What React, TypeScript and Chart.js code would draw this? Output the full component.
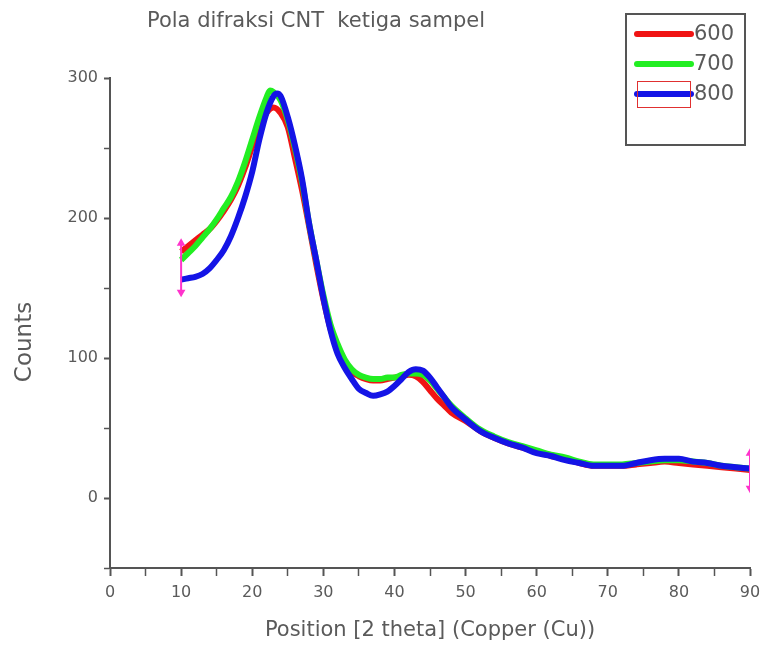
import React, { useEffect, useRef } from "react";
import { Chart, registerables } from "chart.js";

Chart.register(...registerables);

const chartTitle = "Pola difraksi CNT  ketiga sampel";
const xTitle = "Position [2 theta] (Copper (Cu))";
const yTitle = "Counts";
const seriesLabels = ["600", "700", "800"];
const seriesColors = ["#f01414", "#22ee22", "#1414e6"];

const x600 = [10, 11, 12, 13, 14, 15, 16, 17, 18, 19, 20, 21, 22, 22.5, 23, 24, 25, 26, 27, 28, 29, 30, 31, 32, 33, 34, 35, 36, 37, 38, 39, 40, 41, 42, 43, 44, 45, 46, 47, 48, 50, 52, 54, 56, 58, 60, 62, 64, 66, 68, 70, 72, 74, 76, 78, 80, 82, 84, 86, 88, 90];
const y600 = [176, 180, 184, 188, 192, 198, 205, 213, 223, 236, 251, 265, 275, 278, 279, 275, 265, 243, 220, 194, 167, 142, 121, 106, 96, 90, 87, 85, 84, 84, 85, 86, 87, 88, 87, 83, 77, 71, 66, 61, 55, 48, 43, 39, 36, 33, 30, 28, 25, 23, 23, 23, 24, 25, 26, 25, 24, 23, 22, 21, 20];

const x700 = [10, 11, 12, 13, 14, 15, 16, 17, 18, 19, 20, 21, 22, 22.5, 23, 24, 25, 26, 27, 28, 29, 30, 31, 32, 33, 34, 35, 36, 37, 38, 39, 40, 41, 42, 43, 44, 45, 46, 47, 48, 50, 52, 54, 56, 58, 60, 62, 64, 66, 68, 70, 72, 74, 76, 78, 80, 82, 84, 86, 88, 90];
const y700 = [170, 175, 180, 186, 192, 199, 207, 215, 226, 240, 256, 272, 286, 291, 290, 284, 270, 250, 226, 196, 170, 145, 124, 110, 99, 92, 88, 86, 85, 85, 86, 86, 88, 89, 89, 88, 84, 78, 72, 66, 57, 49, 44, 40, 37, 34, 31, 29, 26, 24, 24, 24, 25, 26, 27, 27, 26, 25, 23, 22, 21];

const x800 = [10, 11, 12, 13, 14, 15, 16, 17, 18, 19, 20, 21, 22, 23, 23.5, 24, 25, 26, 27, 28, 29, 30, 31, 32, 33, 34, 35, 36, 37, 38, 39, 40, 41, 42, 43, 44, 45, 46, 47, 48, 50, 52, 54, 56, 58, 60, 62, 64, 66, 68, 70, 72, 74, 76, 78, 80, 82, 84, 86, 88, 90];
const y800 = [156, 157, 158, 160, 164, 170, 177, 187, 200, 215, 233, 256, 275, 287, 289, 287, 272, 252, 228, 196, 170, 143, 120, 103, 93, 85, 78, 75, 73, 74, 76, 80, 85, 90, 92, 91, 86, 79, 72, 65, 56, 48, 43, 39, 36, 32, 30, 27, 25, 23, 23, 23, 25, 27, 28, 28, 26, 25, 23, 22, 21];

// range markers (magenta) at the ends of the scan
const markerX = [10, 90];
const markerTop = [182, 32];
const markerBottom = [147, 7];

const xMin = 0, xMax = 90, xStep = 5, xLabelStep = 10;
const yMin = -50, yMax = 300, yStep = 50, yLabelStep = 100;

const toPoints = (xs: number[], ys: number[]) => xs.map((x, i) => ({ x, y: ys[i] }));

const FONT = "'DejaVu Sans', 'Liberation Sans', sans-serif";
const TEXT = "#5a5a5a";
const AXIS = "#555555";

const overlayPlugin = {
  id: "overlay",
  afterDraw(chart: any) {
    const { ctx } = chart;
    ctx.save();
    // chart title
    ctx.fillStyle = TEXT;
    ctx.font = `21px ${FONT}`;
    ctx.textAlign = "center";
    ctx.textBaseline = "middle";
    ctx.fillText(chartTitle, 316, 22);
    // y title
    ctx.save();
    ctx.translate(25, 342);
    ctx.rotate(-Math.PI / 2);
    ctx.font = `23px ${FONT}`;
    ctx.fillText(yTitle, 0, 0);
    ctx.restore();
    // legend box
    ctx.strokeStyle = AXIS;
    ctx.lineWidth = 2;
    ctx.strokeRect(626, 14, 119, 131);
    ctx.font = `21px ${FONT}`;
    ctx.textAlign = "left";
    seriesLabels.forEach((lab, i) => {
      const y = 34 + i * 30;
      ctx.strokeStyle = seriesColors[i];
      ctx.lineWidth = 6;
      ctx.lineCap = "round";
      ctx.beginPath();
      ctx.moveTo(637, y);
      ctx.lineTo(691, y);
      ctx.stroke();
      ctx.fillStyle = TEXT;
      ctx.fillText(lab, 694, y + 1);
    });
    ctx.strokeStyle = "#e03030";
    ctx.lineWidth = 1;
    ctx.strokeRect(637.5, 81.5, 53, 26);
    ctx.restore();
  },
};

const seriesData = [toPoints(x600, y600), toPoints(x700, y700), toPoints(x800, y800)];

export default function App() {
  const ref = useRef<HTMLCanvasElement>(null);
  useEffect(() => {
    if (!ref.current) return;
    const datasets: any[] = seriesLabels.map((lab, i) => ({
      label: lab,
      data: seriesData[i],
      borderColor: seriesColors[i],
      backgroundColor: seriesColors[i],
      borderWidth: 6,
      pointRadius: 0,
      cubicInterpolationMode: "monotone",
      order: 2 - i,
    }));
    markerX.forEach((mx, i) => {
      datasets.push({
        label: "marker" + i,
        data: [
          { x: mx, y: markerTop[i] },
          { x: mx, y: markerBottom[i] },
        ],
        borderColor: "#ff33cc",
        backgroundColor: "#ff33cc",
        borderWidth: 2,
        pointRadius: 3,
        pointStyle: "triangle",
        rotation: [0, 180],
        order: -1,
      });
    });
    const chart = new Chart(ref.current, {
      type: "line",
      data: { datasets },
      plugins: [overlayPlugin],
      options: {
        animation: false,
        responsive: true,
        maintainAspectRatio: false,
        layout: { padding: { top: 78, right: 13, left: 0, bottom: 0 } },
        plugins: {
          legend: { display: false },
          title: { display: false },
          tooltip: { enabled: false },
        },
        scales: {
          x: {
            type: "linear",
            min: xMin,
            max: xMax,
            afterFit: (s: any) => {
              s.height = 77;
              s.paddingLeft = 0;
              s.paddingRight = 0;
            },
            ticks: {
              stepSize: xStep,
              autoSkip: false,
              maxRotation: 0,
              padding: 7,
              color: TEXT,
              font: { family: FONT, size: 16 },
              callback: (v: any) => (Number(v) % xLabelStep === 0 ? String(v) : ""),
            },
            grid: {
              drawOnChartArea: false,
              drawTicks: true,
              tickLength: 8,
              tickColor: AXIS,
              tickWidth: (c: any) => (c.tick && c.tick.value % xLabelStep === 0 ? 2 : 1.5),
            },
            border: { display: true, color: AXIS, width: 2 },
            title: {
              display: true,
              text: xTitle,
              color: TEXT,
              font: { family: FONT, size: 21 },
              padding: { top: 0, bottom: 2 },
            },
          },
          y: {
            type: "linear",
            min: yMin,
            max: yMax,
            afterFit: (s: any) => { s.width = 110; },
            ticks: {
              stepSize: yStep,
              padding: 6,
              color: TEXT,
              font: { family: FONT, size: 16 },
              callback: (v: any) => (Number(v) % yLabelStep === 0 && Number(v) >= 0 ? String(v) : ""),
            },
            grid: {
              drawOnChartArea: false,
              drawTicks: true,
              tickLength: 6,
              tickColor: AXIS,
              tickWidth: (c: any) => (c.tick && c.tick.value % yLabelStep === 0 ? 2 : 1.5),
            },
            border: { display: true, color: AXIS, width: 2 },
          },
        },
      } as any,
    });
    return () => chart.destroy();
  }, []);
  return (
    <div style={{ position: "absolute", left: 0, top: 0, width: 763, height: 645 }}>
      <canvas ref={ref} />
    </div>
  );
}
